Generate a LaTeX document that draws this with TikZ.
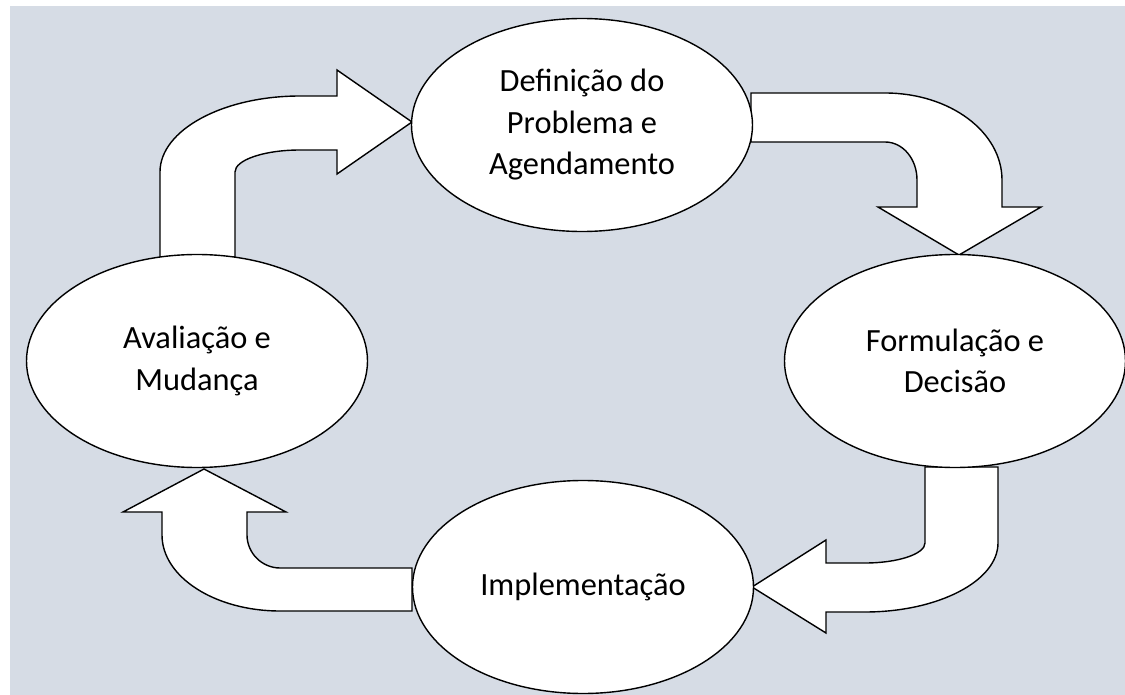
\documentclass[tikz,border=0pt]{standalone}
\usepackage{fontspec}
\setmainfont{Carlito}
\usetikzlibrary{shapes.geometric}
\definecolor{fundo}{HTML}{D6DCE5}

\begin{document}
\begin{tikzpicture}[x=1pt, y=-1pt,
	fase/.style={draw, line width=1.4pt, fill=white, ellipse, inner sep=0pt,
		minimum width=341pt, minimum height=213pt, align=center,
		font=\fontsize{32.4}{41.5}\selectfont},
	seta/.style={draw, line width=1.4pt, fill=white, line join=miter}]
	%%%%% START %%%%%
	
	\useasboundingbox (0, 0) rectangle (1125, 695);
	\fill[fundo] (10, 6) rectangle (1125, 695);
	
	% Avaliacao -> Definicao
	\draw[seta] (160, 257) -- (160, 172) .. controls (160, 130) and (223, 96) .. (300, 96)
		-- (337, 96) -- (337, 70) -- (412, 122) -- (337, 174) -- (337, 150) -- (300, 150)
		.. controls (264, 150) and (235, 160) .. (235, 172) -- (235, 257) -- cycle;
	
	% Definicao -> Formulacao
	\draw[seta] (751, 93) -- (885, 93) .. controls (950, 93) and (1002, 132) .. (1002, 180)
		-- (1002, 207) -- (1041, 207) -- (959, 255) -- (878, 207) -- (917, 207) -- (917, 180)
		.. controls (917, 159) and (903, 142) .. (885, 142) -- (751, 142) -- cycle;
	
	% Formulacao -> Implementacao
	\draw[seta] (925, 467) -- (998, 467) -- (998, 543) .. controls (998, 581) and (938, 612) .. (865, 612)
		-- (826, 612) -- (826, 633) -- (752, 587) -- (826, 540) -- (826, 563) -- (865, 563)
		.. controls (898, 563) and (925, 554) .. (925, 543) -- cycle;
	
	% Implementacao -> Avaliacao
	\draw[seta] (412, 568) -- (280, 568) .. controls (262, 568) and (247, 553) .. (247, 535)
		-- (247, 512) -- (286, 512) -- (204, 469) -- (123, 512) -- (162, 512) -- (162, 535)
		.. controls (162, 577) and (215, 611) .. (280, 611) -- (412, 611) -- cycle;
	
	\node[fase] (definicao) at (582, 125) {Definição do\\Problema e\\Agendamento};
	\node[fase] (formulacao) at (955, 361) {Formulação e\\Decisão};
	\node[fase] (implementacao) at (583, 587) {Implementação};
	\node[fase] (avaliacao) at (197, 361) {Avaliação e\\Mudança};
	
	%%%%% END %%%%%
\end{tikzpicture}
\end{document}
